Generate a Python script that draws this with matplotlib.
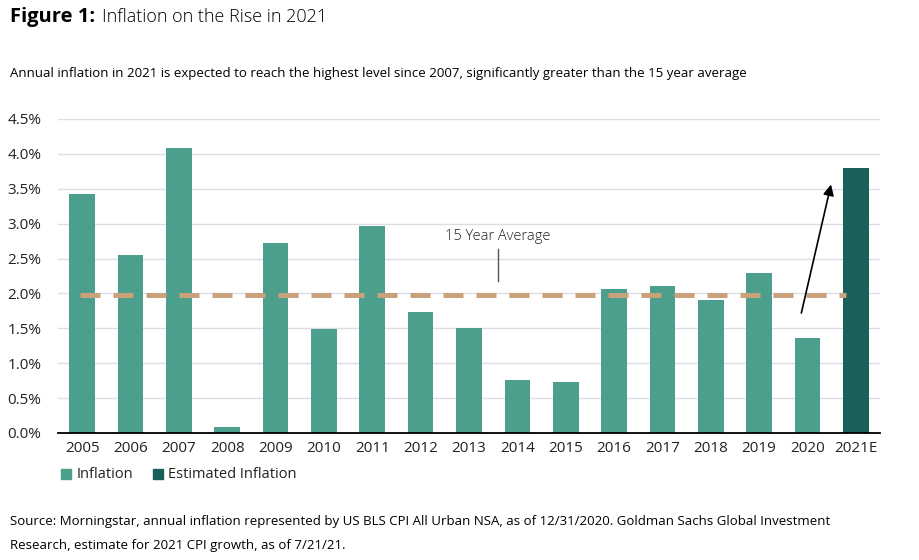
import numpy as np
import matplotlib
matplotlib.use("Agg")
import matplotlib.pyplot as plt
from matplotlib.patches import Rectangle

plt.rcParams['font.family'] = ['Open Sans', 'DejaVu Sans']

# Data
years = ['2005', '2006', '2007', '2008', '2009', '2010', '2011', '2012', '2013',
         '2014', '2015', '2016', '2017', '2018', '2019', '2020', '2021E']
inflation = [3.42, 2.55, 4.08, 0.09, 2.72, 1.49, 2.96, 1.74, 1.50,
             0.76, 0.73, 2.07, 2.11, 1.91, 2.29, 1.36]
estimated = [3.8]
avg_15yr = 1.98
y_ticks = [0.0, 0.5, 1.0, 1.5, 2.0, 2.5, 3.0, 3.5, 4.0, 4.5]

c_infl = '#4c9f8c'
c_est = '#1b5f5b'
c_avg = '#c9a27c'
c_grid = '#dcdce6'
c_text = '#222222'

fig = plt.figure(figsize=(9.19, 5.6), dpi=100)
ax = fig.add_axes([58 / 919, 1 - 433 / 560, (880 - 58) / 919, (433 - 119) / 560])

x = np.arange(len(years))
ax.bar(x[:len(inflation)], inflation, width=0.53, color=c_infl, zorder=3)
ax.bar(x[len(inflation):], estimated, width=0.53, color=c_est, zorder=3)

# 15 year average dashed line
ax.plot([-0.04, 15.8], [avg_15yr, avg_15yr], color=c_avg, lw=3.6,
        dashes=(4, 2.6), zorder=4, solid_capstyle='butt')

# annotation for average
ax.plot([8.6, 8.6], [2.18, 2.64], color='#555555', lw=1, zorder=4)
ax.text(8.6, 2.82, '15 Year Average', ha='center', va='center',
        fontsize=10.5, color=c_text, fontweight='light')

# arrow 2020 -> 2021E
ax.annotate('', xy=(15.5, 3.6), xytext=(14.86, 1.68),
            arrowprops=dict(arrowstyle='-|>', color='black', lw=1.2,
                            mutation_scale=16), zorder=5)

ax.set_xlim(-0.5, 16.5)
ax.set_ylim(0, 4.5)
ax.set_yticks(y_ticks)
ax.set_yticklabels([f'{v:.1f}%' for v in y_ticks])
ax.set_xticks(x)
ax.set_xticklabels(years)
ax.yaxis.grid(True, color=c_grid, lw=1, zorder=0)
ax.tick_params(axis='both', length=0, labelsize=11, colors=c_text)
ax.tick_params(axis='y', pad=12)
ax.tick_params(axis='x', pad=6)
for s in ['top', 'right', 'left']:
    ax.spines[s].set_visible(False)
ax.spines['bottom'].set_color('black')
ax.spines['bottom'].set_linewidth(1.3)
ax.spines['bottom'].set_zorder(5)

# titles
fig.text(10 / 919, 1 - 17 / 560, 'Figure 1:', fontsize=14.5, fontweight='bold',
         color='black', va='center', ha='left')
fig.text(102 / 919, 1 - 17 / 560, 'Inflation on the Rise in 2021', fontsize=13,
         color='black', va='center', ha='left', fontweight='light')
fig.text(10 / 919, 1 - 73 / 560,
         'Annual inflation in 2021 is expected to reach the highest level since 2007, '
         'significantly greater than the 15 year average',
         fontsize=9.5, color='black', va='center', ha='left')

# legend
fig.patches.append(Rectangle((61 / 919, 1 - 479 / 560), 10 / 919, 10 / 560,
                             transform=fig.transFigure, color=c_infl))
fig.text(77 / 919, 1 - 474 / 560, 'Inflation', fontsize=10.5, color=c_text, va='center')
fig.patches.append(Rectangle((153 / 919, 1 - 479 / 560), 10 / 919, 10 / 560,
                             transform=fig.transFigure, color=c_est))
fig.text(168 / 919, 1 - 474 / 560, 'Estimated Inflation', fontsize=10.5, color=c_text, va='center')

# source
fig.text(10 / 919, 1 - 522 / 560,
         'Source: Morningstar, annual inflation represented by US BLS CPI All Urban NSA, '
         'as of 12/31/2020. Goldman Sachs Global Investment',
         fontsize=9.5, color='black', va='center', ha='left')
fig.text(10 / 919, 1 - 546 / 560,
         'Research, estimate for 2021 CPI growth, as of 7/21/21.',
         fontsize=9.5, color='black', va='center', ha='left')

fig.savefig('out.png', dpi=100)
